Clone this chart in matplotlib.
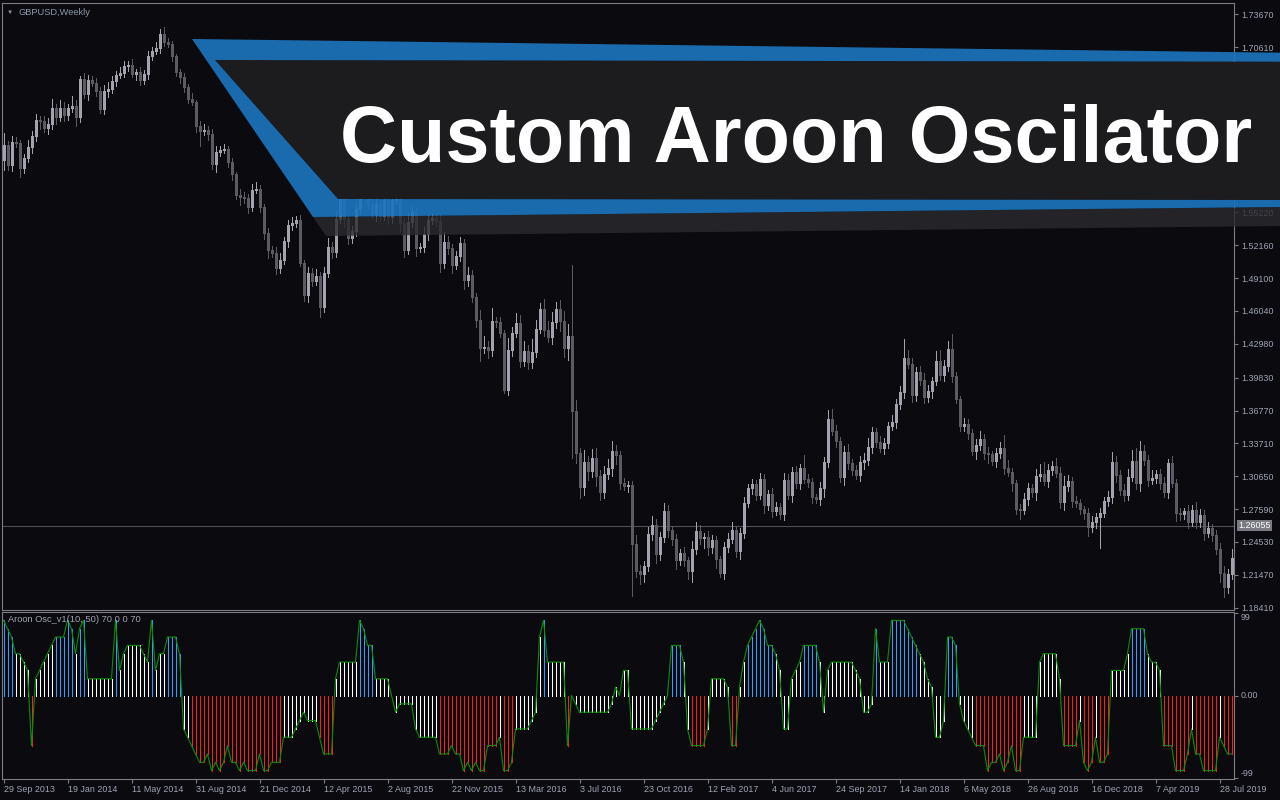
import numpy as np
import matplotlib
matplotlib.use("Agg")
import matplotlib.pyplot as plt
from matplotlib.patches import Polygon

plt.rcParams['font.family'] = ['Liberation Sans', 'DejaVu Sans']

W, H = 1280, 800

# ---- weekly GBPUSD closes, open = previous close ----
first_open = 1.6009
closes = [
    1.6149, 1.5963, 1.6177, 1.6168, 1.5935, 1.6028, 1.6130, 1.6233, 1.6382, 1.6372,
    1.6307, 1.6345, 1.6494, 1.6410, 1.6494, 1.6428, 1.6494, 1.6512, 1.6410, 1.6764,
    1.6624, 1.6754, 1.6726, 1.6652, 1.6484, 1.6652, 1.6670, 1.6745, 1.6801, 1.6819,
    1.6885, 1.6894, 1.6810, 1.6829, 1.6754, 1.6810, 1.6978, 1.7024, 1.7052, 1.7182,
    1.7108, 1.7089, 1.6978, 1.6829, 1.6782, 1.6689, 1.6577, 1.6549, 1.6326, 1.6279,
    1.6289, 1.6251, 1.5972, 1.6084, 1.6102, 1.6112, 1.5991, 1.5879, 1.5684, 1.5665,
    1.5656, 1.5572, 1.5730, 1.5739, 1.5572, 1.5330, 1.5171, 1.5144, 1.5004, 1.5078,
    1.5255, 1.5404, 1.5423, 1.5451, 1.5050, 1.4753, 1.4957, 1.4883, 1.4929, 1.4641,
    1.4957, 1.5199, 1.5153, 1.5460, 1.5700, 1.5460, 1.5285, 1.5345, 1.5555, 1.5875,
    1.5745, 1.5600, 1.5510, 1.5600, 1.5490, 1.5640, 1.5475, 1.5640, 1.5690, 1.5420,
    1.5171, 1.5432, 1.5525, 1.5190, 1.5199, 1.5320, 1.5451, 1.5469, 1.5441, 1.5050,
    1.5246, 1.5190, 1.5032, 1.5116, 1.5237, 1.4892, 1.4939, 1.4734, 1.4520, 1.4259,
    1.4268, 1.4240, 1.4510, 1.4501, 1.4399, 1.3868, 1.4240, 1.4399, 1.4492, 1.4138,
    1.4231, 1.4129, 1.4222, 1.4436, 1.4622, 1.4427, 1.4362, 1.4501, 1.4622, 1.4510,
    1.4259, 1.4371, 1.3673, 1.3282, 1.2965, 1.3198, 1.3114, 1.3235, 1.3067, 1.2918,
    1.3086, 1.3142, 1.3300, 1.3263, 1.3002, 1.2974, 1.2984, 1.2434, 1.2183, 1.2155,
    1.2230, 1.2527, 1.2611, 1.2341, 1.2499, 1.2742, 1.2565, 1.2481, 1.2285, 1.2351,
    1.2285, 1.2183, 1.2388, 1.2555, 1.2490, 1.2499, 1.2406, 1.2472, 1.2295, 1.2164,
    1.2406, 1.2481, 1.2565, 1.2369, 1.2537, 1.2816, 1.2956, 1.2993, 1.2891, 1.3040,
    1.2797, 1.2900, 1.2742, 1.2779, 1.2714, 1.3030, 1.2891, 1.3105, 1.3002, 1.3142,
    1.3040, 1.3012, 1.2872, 1.2853, 1.2956, 1.3198, 1.3598, 1.3486, 1.3393, 1.3058,
    1.3291, 1.3188, 1.3123, 1.3077, 1.3198, 1.3216, 1.3337, 1.3477, 1.3384, 1.3328,
    1.3375, 1.3533, 1.3570, 1.3738, 1.3849, 1.4166, 1.4110, 1.3822, 1.4036, 1.3961,
    1.3803, 1.3859, 1.3952, 1.4138, 1.4008, 1.4092, 1.4250, 1.3998, 1.3784, 1.3533,
    1.3552, 1.3468, 1.3300, 1.3356, 1.3412, 1.3282, 1.3272, 1.3207, 1.3282, 1.3328,
    1.3142, 1.3105, 1.3002, 1.2760, 1.2751, 1.2853, 1.2956, 1.2918, 1.3067, 1.3086,
    1.3021, 1.3123, 1.3161, 1.3095, 1.2825, 1.2974, 1.3021, 1.2835, 1.2816, 1.2760,
    1.2723, 1.2593, 1.2639, 1.2686, 1.2723, 1.2835, 1.2872, 1.3198, 1.3077, 1.2937,
    1.2891, 1.3058, 1.3207, 1.3002, 1.3300, 1.3216, 1.3030, 1.3049, 1.3086, 1.3002,
    1.2918, 1.3188, 1.3002, 1.2723, 1.2714, 1.2742, 1.2639, 1.2751, 1.2640, 1.2704,
    1.2537, 1.2583, 1.2518, 1.2388, 1.2164, 1.2034, 1.2155, 1.2304]

# wick lengths above / below the body, in pips
wick_up = [
    110, 40, 60, 50, 30, 40, 70, 50, 60, 40,
    50, 60, 80, 40, 70, 60, 40, 90, 60, 30,
    60, 50, 40, 50, 40, 60, 70, 50, 40, 60,
    50, 40, 60, 30, 50, 40, 50, 40, 60, 50,
    70, 40, 30, 20, 30, 40, 30, 60, 20, 50,
    60, 40, 50, 60, 40, 50, 30, 40, 20, 60,
    50, 40, 60, 70, 40, 30, 50, 40, 60, 70,
    40, 50, 60, 40, 50, 30, 60, 50, 70, 40,
    60, 80, 50, 70, 60, 50, 40, 50, 60, 60,
    50, 70, 60, 50, 40, 60, 50, 40, 50, 70,
    50, 80, 60, 50, 40, 70, 60, 50, 40, 60,
    90, 60, 40, 50, 60, 40, 70, 50, 40, 90,
    100, 60, 120, 40, 50, 30, 110, 60, 90, 70,
    90, 60, 120, 80, 60, 90, 80, 90, 70, 80,
    90, 110, 660, 100, 50, 110, 60, 80, 90, 60,
    70, 80, 90, 60, 40, 50, 40, 40, 80, 60,
    50, 70, 80, 60, 50, 70, 60, 40, 50, 40,
    60, 30, 70, 80, 60, 40, 60, 50, 40, 30,
    50, 60, 70, 40, 50, 60, 40, 50, 40, 60,
    50, 40, 60, 50, 40, 70, 60, 50, 60, 40,
    120, 50, 40, 30, 60, 50, 80, 90, 60, 40,
    60, 70, 40, 50, 60, 70, 80, 50, 40, 60,
    50, 40, 70, 50, 60, 180, 70, 60, 50, 60,
    70, 60, 40, 90, 100, 60, 70, 140, 40, 30,
    60, 50, 40, 60, 70, 50, 60, 30, 50, 60,
    120, 70, 40, 30, 50, 60, 50, 40, 70, 90,
    110, 60, 50, 70, 60, 90, 60, 40, 50, 40,
    30, 50, 60, 40, 50, 40, 60, 90, 60, 50,
    60, 70, 100, 120, 90, 60, 50, 70, 40, 50,
    60, 40, 70, 40, 50, 30, 60, 50, 70, 60,
    50, 60, 40, 50, 60, 70, 50, 80]
wick_dn = [
    90, 50, 60, 40, 80, 50, 40, 60, 50, 70,
    40, 60, 50, 70, 40, 60, 50, 40, 80, 50,
    40, 60, 30, 50, 40, 50, 60, 40, 50, 30,
    40, 50, 30, 60, 50, 40, 50, 40, 30, 50,
    40, 30, 50, 40, 60, 50, 40, 30, 60, 140,
    40, 60, 50, 70, 40, 30, 50, 60, 40, 70,
    50, 60, 40, 30, 50, 60, 70, 40, 60, 50,
    40, 60, 50, 40, 30, 60, 70, 50, 40, 90,
    50, 40, 60, 50, 40, 70, 60, 50, 40, 50,
    60, 50, 40, 70, 50, 40, 60, 50, 40, 70,
    60, 40, 50, 70, 40, 50, 60, 40, 50, 80,
    50, 60, 70, 40, 50, 80, 60, 50, 70, 120,
    50, 70, 60, 50, 40, 30, 50, 60, 40, 60,
    50, 70, 60, 50, 40, 60, 50, 70, 60, 90,
    80, 110, 440, 90, 100, 70, 80, 60, 90, 70,
    60, 50, 70, 80, 60, 40, 60, 480, 60, 90,
    70, 50, 60, 80, 60, 50, 70, 60, 80, 50,
    60, 70, 100, 50, 60, 90, 70, 60, 80, 40,
    60, 50, 40, 60, 70, 50, 40, 60, 50, 40,
    70, 50, 60, 40, 50, 60, 40, 70, 50, 60,
    40, 50, 60, 40, 60, 80, 50, 40, 60, 50,
    70, 60, 50, 40, 60, 70, 50, 60, 50, 40,
    60, 50, 40, 60, 50, 60, 40, 70, 60, 50,
    60, 50, 70, 40, 50, 60, 50, 60, 40, 50,
    50, 60, 40, 70, 50, 60, 80, 40, 60, 50,
    60, 40, 70, 50, 80, 40, 60, 50, 70, 50,
    40, 60, 50, 40, 60, 70, 50, 60, 40, 50,
    60, 80, 50, 60, 290, 40, 50, 60, 70, 50,
    60, 50, 40, 60, 70, 50, 60, 40, 50, 60,
    50, 60, 40, 70, 60, 50, 60, 40, 60, 50,
    70, 40, 60, 50, 80, 90, 60, 50]

# ---- Aroon oscillator ----
osc = [
    90, 80, 70, 50, 50, 40, 30, -60, 20, 30,
    40, 50, 60, 70, 70, 70, 90, 80, 50, 80,
    90, 20, 20, 20, 20, 20, 20, 20, 90, 30,
    50, 60, 60, 60, 60, 50, 40, 90, 30, 50,
    50, 70, 70, 70, 50, -40, -50, -60, -70, -80,
    -80, -70, -90, -80, -90, -80, -60, -80, -80, -90,
    -80, -90, -90, -90, -70, -90, -90, -80, -80, -80,
    -50, -50, -50, -40, -30, -20, -30, -30, -30, -50,
    -70, -70, -70, 20, 40, 40, 40, 40, 40, 90,
    80, 60, 60, 20, 20, 20, 20, 0, -20, -10,
    -10, -10, -10, -40, -50, -50, -50, -50, -50, -70,
    -70, -70, -60, -70, -70, -90, -80, -90, -80, -90,
    -90, -60, -60, -60, -50, -90, -90, -80, -40, -40,
    -40, -40, -30, -20, 70, 90, 40, 40, 40, 40,
    40, -60, 0, -10, -20, -20, -20, -20, -20, -20,
    -20, -20, -10, 10, 0, 30, 30, -40, -40, -40,
    -40, -40, -40, -30, -20, -10, 0, 60, 60, 60,
    40, -40, -60, -60, -60, -60, -40, 20, 20, 20,
    20, 10, -60, -60, 10, 40, 60, 70, 80, 90,
    80, 60, 60, 50, 30, -40, -40, 20, 30, 40,
    60, 60, 60, 60, 40, -20, 30, 40, 40, 40,
    40, 40, 40, 30, 20, -20, -20, -10, 80, 40,
    40, 40, 90, 90, 90, 90, 80, 70, 60, 50,
    40, 20, 10, -50, -50, -30, 70, 70, 60, -10,
    -30, -40, -50, -60, -60, -60, -90, -80, -80, -70,
    -90, -80, -60, -90, -90, -50, -50, -50, -50, 40,
    50, 50, 50, 50, 20, -60, -60, -60, -60, -30,
    -80, -90, -80, -50, -80, -80, -70, 30, 30, 30,
    30, 50, 80, 80, 80, 80, 50, 40, 40, 30,
    -60, -60, -60, -90, -90, -90, -70, -40, -70, -70,
    -90, -90, -90, -90, -50, -60, -70, -70]

# histogram colour per bar (b = blue, w = white, r = red), as runs
osc_color_runs = [
    ('b', 3), ('w', 4), ('r', 1), ('w', 5), ('b', 5), ('w', 1), ('b', 2), ('w', 7),
    ('b', 1), ('w', 8), ('b', 1), ('w', 3), ('b', 4), ('w', 2), ('r', 23), ('w', 9),
    ('r', 4), ('w', 6), ('b', 4), ('w', 7),
    ('w', 9), ('r', 15), ('w', 1), ('r', 3), ('w', 7), ('b', 1), ('w', 5), ('r', 1),
    ('w', 25), ('b', 3),
    ('w', 2), ('r', 4), ('w', 6), ('r', 2), ('w', 2), ('b', 7), ('w', 7), ('b', 4),
    ('w', 14),
    ('b', 1), ('w', 3), ('b', 7), ('w', 7), ('b', 3), ('w', 4), ('r', 12), ('w', 10),
    ('r', 4), ('w', 1), ('r', 3), ('w', 1), ('r', 3), ('w', 5), ('b', 4), ('w', 4),
    ('r', 7), ('w', 1), ('r', 6), ('w', 1), ('r', 3)]

date_labels = ['29 Sep 2013', '19 Jan 2014', '11 May 2014', '31 Aug 2014',
               '21 Dec 2014', '12 Apr 2015', '2 Aug 2015', '22 Nov 2015',
               '13 Mar 2016', '3 Jul 2016', '23 Oct 2016', '12 Feb 2017',
               '4 Jun 2017', '24 Sep 2017', '14 Jan 2018', '6 May 2018',
               '26 Aug 2018', '16 Dec 2018', '7 Apr 2019', '28 Jul 2019']
label_step = 16  # bars between date labels

# price labels that stay visible (the rest sit under the banner)
price_ticks = [1.73670, 1.70610, 1.55220, 1.52160, 1.49100, 1.46040, 1.42980,
               1.39830, 1.36770, 1.33710, 1.30650, 1.27590, 1.24530, 1.21470,
               1.18410]
current_price = 1.26055

# ---- colours ----
bg = '#0b0b0f'
border = '#7c7c84'
txt = '#9ea4b4'
bull_c = '#a3a3ae'
bear_c = '#5b5b61'
bar_cols = {'b': '#3a9bff', 'w': '#ffffff', 'r': '#ff1e1e'}
green = '#0a8c0a'
blue = '#1b74bd'

closes = np.array(closes)
n = len(closes)
opens = np.r_[first_open, closes[:-1]]
highs = np.maximum(opens, closes) + np.array(wick_up) / 10000.0
lows = np.minimum(opens, closes) - np.array(wick_dn) / 10000.0
idx = np.arange(n)
bull = closes >= opens
osc_colors = ''.join(c * k for c, k in osc_color_runs)


def fx(px):
    return px / W


def fy(py):
    return 1 - py / H


fig = plt.figure(figsize=(W / 100, H / 100), dpi=100, facecolor=bg)
ax = fig.add_axes([fx(2), fy(610), (1234 - 2) / W, (610 - 3) / H], facecolor=bg)
ax2 = fig.add_axes([fx(2), fy(779), (1234 - 2) / W, (779 - 612) / H], facecolor=bg)

for a in (ax, ax2):
    for s in a.spines.values():
        s.set_color(border)
        s.set_linewidth(0.8)
    # 4 px per bar; bars land on pixel centres
    a.set_xlim(-0.375, n - 0.375)

# candles: 1 px wicks, 3 px bodies
cols = np.where(bull, bull_c, bear_c)
ax.vlines(idx, lows, highs, colors=cols, linewidth=0.72, antialiased=False, zorder=2)
body_lo = np.minimum(opens, closes)
body_hi = np.maximum(np.maximum(opens, closes), body_lo + 0.0009)
ax.vlines(idx, body_lo, body_hi, colors=cols, linewidth=2.16, antialiased=False, zorder=3)
ax.axhline(current_price, color='#4e4e56', linewidth=0.8, zorder=1)

ax.set_ylim(1.18199, 1.74711)
ax.yaxis.tick_right()
ax.set_yticks(price_ticks)
ax.set_yticklabels(['%.5f' % p for p in price_ticks])
ax.tick_params(axis='y', colors=border, labelcolor=txt, labelsize=6.4,
               length=3, width=0.8, pad=2)
ax.set_xticks([])
ax.annotate('%.5f' % current_price, xy=(1.0, current_price),
            xycoords=('axes fraction', 'data'), xytext=(4, 0),
            textcoords='offset pixels', va='center', ha='left', fontsize=6.4,
            color='#ffffff',
            bbox=dict(boxstyle='square,pad=0.15', fc='#7a7a82', ec='none'),
            annotation_clip=False, zorder=5)

# oscillator: 1 px histogram lines, green line on top
ax2.vlines(idx, 0, osc, colors=[bar_cols[c] for c in osc_colors], linewidth=0.72,
           antialiased=False, zorder=2)
ax2.plot(idx, osc, color=green, linewidth=0.8, zorder=3)
ax2.set_ylim(-100, 100)
ax2.yaxis.tick_right()
ax2.set_yticks([-99, 0, 99])
ax2.set_yticklabels(['-99', '0.00', '99'])
ax2.tick_params(axis='y', colors=border, labelcolor=txt, labelsize=6.4,
                length=3, width=0.8, pad=2)
for lab, va in zip(ax2.get_yticklabels(), ['bottom', 'center', 'top']):
    lab.set_va(va)
ax2.set_xticks(np.arange(len(date_labels)) * label_step)
ax2.set_xticklabels(date_labels)
ax2.tick_params(axis='x', colors=border, labelcolor=txt, labelsize=6.4,
                length=3, width=0.8, pad=1)
for lab in ax2.get_xticklabels():
    lab.set_ha('left')

ax.text(0.004, 0.985, '▼', transform=ax.transAxes, fontsize=4.5, color='#8c98ac',
        va='center', ha='left')
ax.text(0.013, 0.985, 'GBPUSD,Weekly', transform=ax.transAxes, fontsize=6.7,
        color='#8c98ac', va='center', ha='left')
ax2.text(0.005, 0.955, 'Aroon Osc_v1(10, 50) 70 0 0 70', transform=ax2.transAxes,
         fontsize=6.7, color='#a0a4b0', va='center', ha='left')

# ---- banner ----
def poly(pts, **kw):
    p = Polygon([(fx(x), fy(y)) for x, y in pts], closed=True,
                transform=fig.transFigure, linewidth=0, **kw)
    fig.add_artist(p)

poly([(313, 217), (1280, 207), (1280, 226), (326, 236)], facecolor='#2a2a2f',
     alpha=0.8, zorder=10)
poly([(215, 60), (1280, 61.7), (1280, 200), (338, 199)], facecolor='#1c1c1f',
     zorder=11)
poly([(192, 39), (1280, 52.7), (1280, 61.7), (215, 60), (338, 199), (1280, 200),
      (1280, 207), (313, 217)], facecolor=blue, alpha=0.92, zorder=12)

fig.text(fx(340), fy(162), 'Custom Aroon Oscilator', fontsize=57, fontweight='bold',
         color='white', ha='left', va='baseline', zorder=13)

fig.savefig('out.png', dpi=100, facecolor=bg)
